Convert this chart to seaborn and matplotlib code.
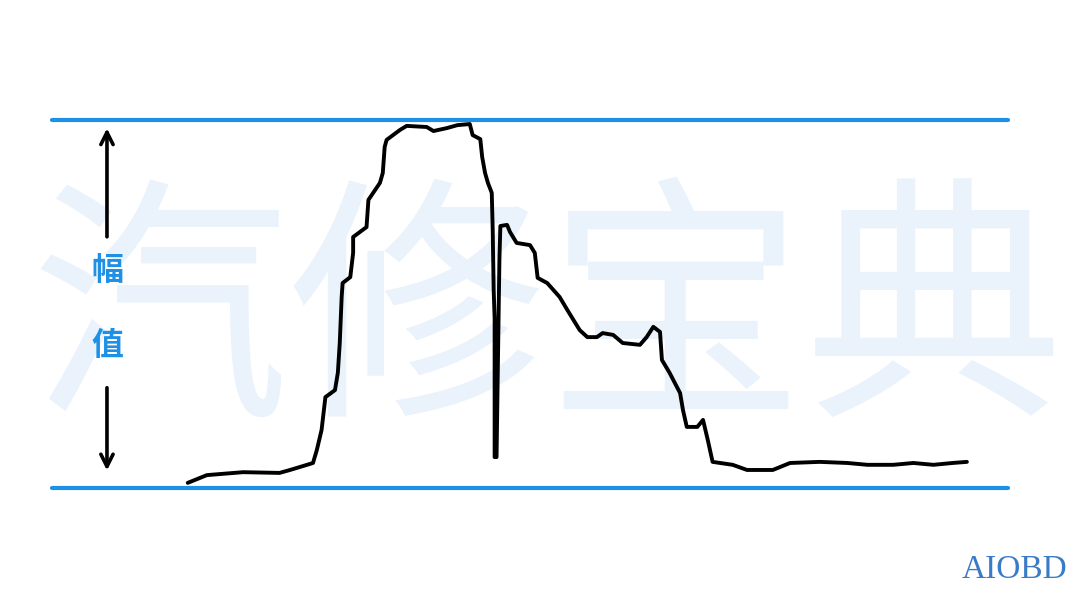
"""
点火波形示意 — 幅值 (两条蓝色基准线之间)
"""
import matplotlib
matplotlib.use("Agg")
import matplotlib.pyplot as plt
import seaborn as sns

sns.set_theme(style="white")
plt.rcParams["font.family"] = ["Noto Sans CJK SC", "DejaVu Sans"]

# 时间(占总宽百分比) / 幅值(0 = 下基准线, 1 = 上基准线)
TIME = [14.2, 16.2, 20.0, 23.8, 24.9, 26.3, 27.3, 27.7, 28.2, 28.6,
        29.6, 29.9, 30.1, 30.3, 30.4, 31.2, 31.5, 31.5, 32.9, 33.1,
        34.3, 34.6, 34.8, 35.0, 36.4, 37.1, 39.2, 39.9, 41.3, 42.4,
        43.7, 44.0, 44.8, 45.0, 45.3, 45.6, 46.0, 46.1, 46.2, 46.3,
        46.3, 46.5, 46.8, 46.9, 47.6, 47.9, 48.6, 50.0, 50.5, 50.8,
        51.8, 53.1, 53.9, 55.2, 56.0, 57.0, 57.6, 58.7, 59.7, 61.5,
        62.2, 62.9, 63.6, 63.8, 64.6, 65.7, 66.0, 66.4, 67.5, 68.1,
        68.6, 69.1, 71.2, 72.7, 75.4, 77.2, 80.3, 83.2, 85.3, 88.0,
        90.1, 92.2, 94.2, 95.7]
AMP = [0.014, 0.035, 0.043, 0.041, 0.049, 0.060, 0.068, 0.103, 0.158, 0.247,
       0.266, 0.313, 0.394, 0.519, 0.557, 0.573, 0.639, 0.682, 0.709, 0.783,
       0.829, 0.856, 0.927, 0.946, 0.973, 0.984, 0.981, 0.970, 0.978, 0.986,
       0.989, 0.959, 0.948, 0.899, 0.856, 0.829, 0.802, 0.701, 0.538, 0.462,
       0.084, 0.084, 0.620, 0.712, 0.715, 0.696, 0.666, 0.660, 0.639, 0.571,
       0.557, 0.519, 0.484, 0.429, 0.410, 0.410, 0.421, 0.416, 0.394, 0.389,
       0.410, 0.438, 0.424, 0.348, 0.313, 0.258, 0.212, 0.166, 0.166, 0.185,
       0.130, 0.071, 0.063, 0.049, 0.049, 0.068, 0.071, 0.068, 0.063, 0.063,
       0.068, 0.063, 0.068, 0.071]
BASELINES = [0.0, 1.0]

BLUE = "#1E90E6"

fig = plt.figure(figsize=(10.8, 6.08), dpi=100)
fig.patch.set_facecolor("white")

ax = fig.add_axes([52 / 1080, 120 / 608, 956 / 1080, 368 / 608])
ax.set_facecolor("none")
ax.set_xlim(0, 100)
ax.set_ylim(0, 1)
ax.axis("off")

# 水印 (放在 axes 里, 压在波形下面)
ax.text(0.507, 0.47, "汽修宝典", fontsize=186, color="#EAF2FB",
        ha="center", va="center", transform=fig.transFigure,
        clip_on=False, zorder=0)

for yb in BASELINES:
    ax.axhline(yb, color=BLUE, lw=3, clip_on=False, zorder=2)

sns.lineplot(x=TIME, y=AMP, sort=False, estimator=None, ax=ax,
             color="black", lw=2.8, zorder=3)

# 幅值 箭头
arrow = dict(arrowstyle="->", color="black", lw=2.6, mutation_scale=22)
ax.annotate("", xy=(5.75, 0.985), xytext=(5.75, 0.675), arrowprops=arrow,
            zorder=3)
ax.annotate("", xy=(5.75, 0.04), xytext=(5.75, 0.28), arrowprops=arrow,
            zorder=3)
ax.text(5.75, 0.59, "幅", color=BLUE, fontsize=23, fontweight="bold",
        ha="center", va="center", zorder=3)
ax.text(5.75, 0.385, "值", color=BLUE, fontsize=23, fontweight="bold",
        ha="center", va="center", zorder=3)

fig.text(1015 / 1080, 1 - 570 / 608, "AIOBD", fontsize=24, color="#3A7BC8",
         family="Liberation Serif", ha="center", va="center")

fig.savefig("out.png", dpi=100, facecolor="white")
